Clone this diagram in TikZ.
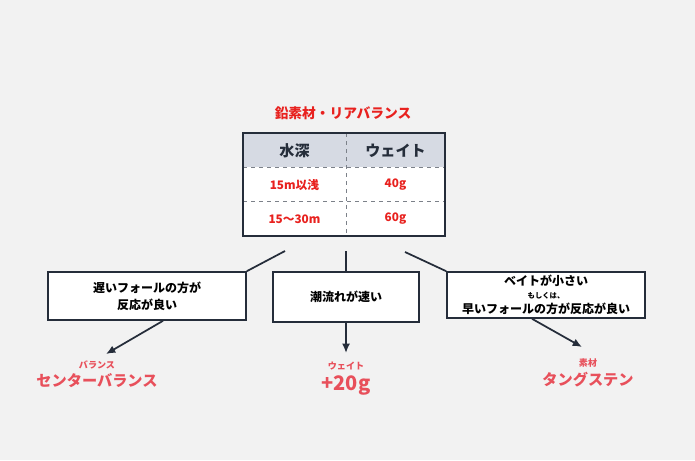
\documentclass[tikz,border=0pt]{standalone}
\usepackage{fontspec}
\setmainfont{Noto Sans CJK JP}
\usetikzlibrary{arrows.meta,calc}
\definecolor{navy}{HTML}{252D3A}
\definecolor{bg}{HTML}{F2F2F2}
\definecolor{hdr}{HTML}{D6DAE3}
\definecolor{tred}{HTML}{E8211E}
\definecolor{pink}{HTML}{E8505B}
\begin{document}
\begin{tikzpicture}[x=0.75pt, y=-0.75pt,
    box/.style={draw=navy, line width=1.2pt, fill=white, align=center, font=\bfseries\fontsize{9}{12.5}\selectfont, inner sep=0pt},
    cell/.style={font=\bfseries\fontsize{8.8}{10}\selectfont, text=tred},
    conn/.style={draw=navy, line width=1.3pt},
    arr/.style={conn, -{Latex[length=7pt,width=6pt]}}]
    \fill[bg] (0,0) rectangle (695,460);
    \useasboundingbox (0,0) rectangle (695,460);
    % title and table
    \node[font=\bfseries\fontsize{10.3}{12}\selectfont, text=tred] (title) at (343,113) {鉛素材・リアバランス};
    \fill[hdr] (243,133) rectangle (445,167);
    \fill[white] (243,167) rectangle (445,236);
    \draw[navy!60, dashed, line width=0.6pt] (243,167) -- (445,167) (243,201) -- (445,201) (346,133) -- (346,236);
    \draw[navy, line width=1.8pt] (243,133) rectangle (445,236);
    \node[font=\bfseries\fontsize{11.3}{12}\selectfont, text=navy] (h0) at (294.5,151) {水深};
    \node[font=\bfseries\fontsize{11.3}{12}\selectfont, text=navy] (h1) at (395.5,151) {ウェイト};
    \node[cell] (a0) at (294.5,185) {15m以浅};
    \node[cell] (a1) at (395.5,185) {40g};
    \node[cell] (b0) at (294.5,219) {15〜30m};
    \node[cell] (b1) at (395.5,219) {60g};
    % boxes
    \node[box, minimum width=148.5pt, minimum height=36pt] (lbox) at (147,296) {遅いフォールの方が\\反応が良い};
    \node[box, minimum width=109.5pt, minimum height=37.5pt] (mbox) at (346,297) {潮流れが速い};
    \node[box, minimum width=148.5pt, minimum height=34.5pt] (rbox) at (546,295) {ベイトが小さい\\[-3pt]{\fontsize{5.5}{6}\selectfont もしくは、}\\[-1pt]早いフォールの方が反応が良い};
    \coordinate (l0) at (285,251);
    \coordinate (m0) at (346,251);
    \coordinate (r0) at (405,252);
    \coordinate (lt) at (106,354);
    \coordinate (mt) at (346,353);
    \coordinate (rt) at (582,347);
    \draw[conn] (l0) -- (lbox.north east);
    \draw[conn] (m0) -- (mbox.north);
    \draw[conn] (r0) -- (rbox.north west);
    \draw[arr] ($(lbox.south)+(16,0)$) -- (lt);
    \draw[arr] (mbox.south) -- (mt);
    \draw[arr] ($(rbox.south)+(-14,0)$) -- (rt);
    % results
    \node[font=\bfseries\fontsize{6.8}{7}\selectfont, text=pink] (lr0) at (97,365) {バランス};
    \node[font=\bfseries\fontsize{11.4}{14}\selectfont, text=pink] (lr1) at (97,381) {センターバランス};
    \node[font=\bfseries\fontsize{6.8}{7}\selectfont, text=pink] (mr0) at (346,366) {ウェイト};
    \node[font=\bfseries\fontsize{15}{16}\selectfont, text=pink] (mr1) at (346,385) {+20g};
    \node[font=\bfseries\fontsize{6.8}{7}\selectfont, text=pink] (rr0) at (588,363) {素材};
    \node[font=\bfseries\fontsize{11.4}{14}\selectfont, text=pink] (rr1) at (588,380) {タングステン};
\end{tikzpicture}
\end{document}
